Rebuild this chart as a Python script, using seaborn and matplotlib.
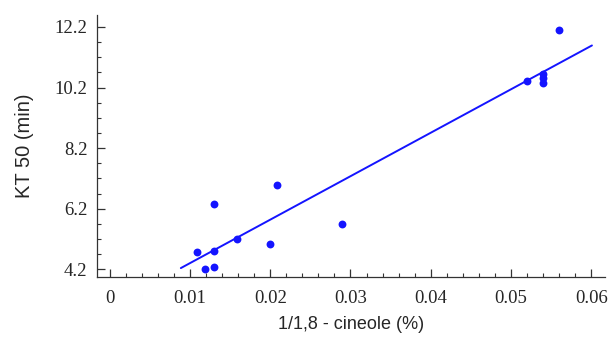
import matplotlib
matplotlib.use("Agg")
import matplotlib.pyplot as plt
import seaborn as sns
import pandas as pd
import numpy as np
from matplotlib.ticker import MultipleLocator, FixedLocator

# data
cineole = [0.0109, 0.0130, 0.0130, 0.0119, 0.0130, 0.0159, 0.0200, 0.0208,
           0.0289, 0.0520, 0.0540, 0.0540, 0.0540, 0.0560]
kt50 = [4.77, 4.79, 6.34, 4.20, 4.28, 5.21, 5.05, 6.99,
        5.68, 10.42, 10.64, 10.53, 10.36, 12.09]
fit_x = [0.00885, 0.0601]
fit_y = [4.24, 11.59]
xticks = [0, 0.01, 0.02, 0.03, 0.04, 0.05, 0.06]
xticklabels = ["0", "0.01", "0.02", "0.03", "0.04", "0.05", "0.06"]
yticks = [4.2, 6.2, 8.2, 10.2, 12.2]
yticklabels = ["4.2", "6.2", "8.2", "10.2", "12.2"]

sns.set_style("ticks")
blue = "#1414ff"

fig = plt.figure(figsize=(6.11, 3.38), dpi=100)
ax = fig.add_axes([0.1588, 0.180, 0.831, 0.776])

df = pd.DataFrame({"x": cineole, "y": kt50})
sns.scatterplot(data=df, x="x", y="y", ax=ax, color=blue, s=32,
                edgecolor=blue, linewidth=0, zorder=3)
fit = pd.DataFrame({"x": fit_x, "y": fit_y})
sns.lineplot(data=fit, x="x", y="y", ax=ax, color=blue, linewidth=1.4,
             zorder=2)

ax.set_xlim(-0.0016, 0.0617)
ax.set_ylim(3.94, 12.6)

ax.xaxis.set_major_locator(FixedLocator(xticks))
ax.xaxis.set_minor_locator(MultipleLocator(0.002))
ax.yaxis.set_major_locator(FixedLocator(yticks))
ax.yaxis.set_minor_locator(FixedLocator([4.7, 5.2, 5.7, 6.7, 7.2, 7.7, 8.7,
                                         9.2, 9.7, 10.7, 11.2, 11.7]))
ax.set_xticklabels(xticklabels, family="Liberation Serif", fontsize=13.5)
ax.set_yticklabels(yticklabels, family="Liberation Serif", fontsize=13.5)

ax.tick_params(axis="both", which="major", direction="in", length=6,
               width=0.9, color="#333333", pad=7)
ax.tick_params(axis="both", which="minor", direction="in", length=3,
               width=0.8, color="#333333")
ax.tick_params(axis="x", which="major", pad=9)

for s in ["top", "right"]:
    ax.spines[s].set_visible(False)
for s in ["left", "bottom"]:
    ax.spines[s].set_linewidth(0.9)
    ax.spines[s].set_color("#333333")

ax.set_xlabel("1/1,8 - cineole (%)", family="Liberation Sans", fontsize=13,
              labelpad=7)
ax.set_ylabel("KT 50 (min)", family="Liberation Sans", fontsize=14.5,
              labelpad=15)

fig.savefig("out.png", dpi=100)
